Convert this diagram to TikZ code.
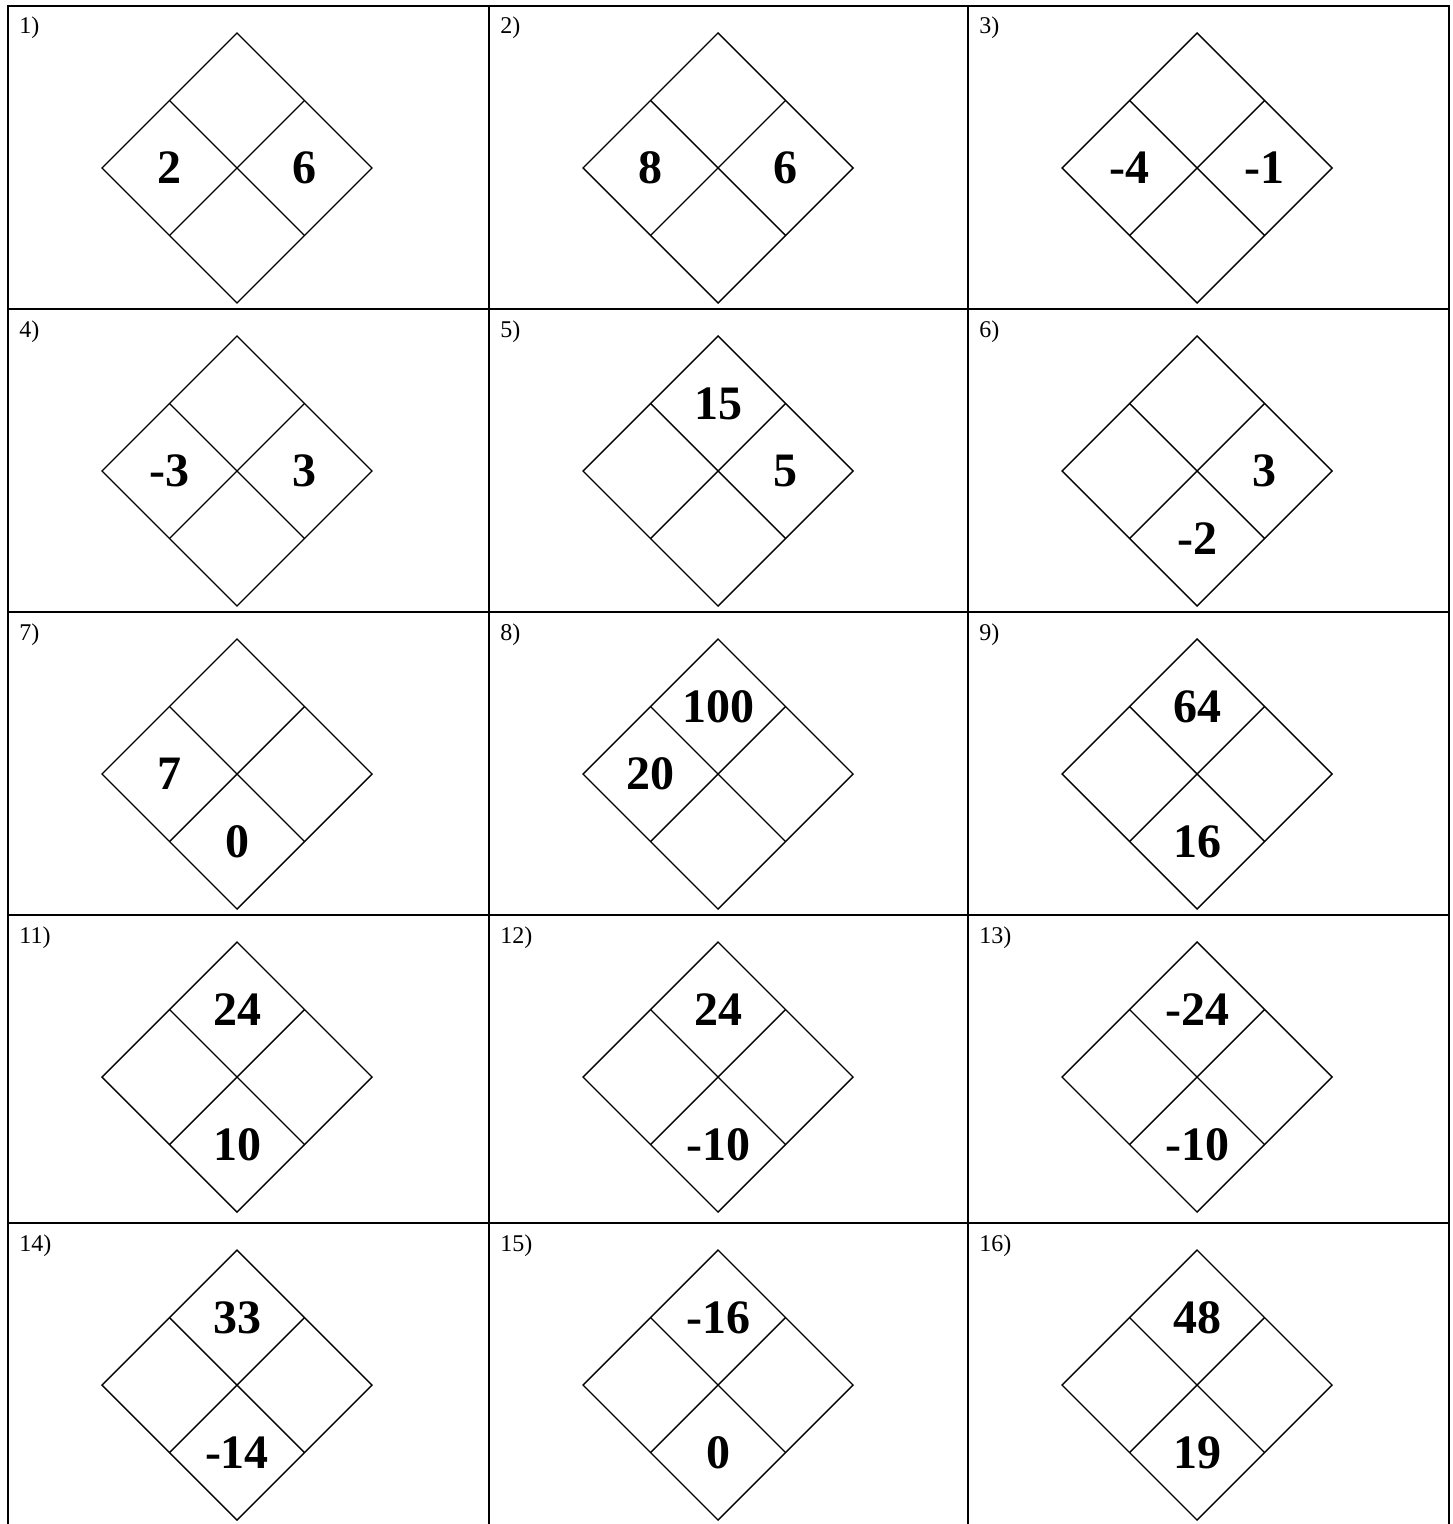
\documentclass[tikz,border=0pt]{standalone}
\usepackage{fontspec}
\setmainfont{Liberation Serif}
\usetikzlibrary{calc}

\tikzset{
  gridline/.style={line width=1.1pt},
  quadline/.style={line width=0.7pt, line join=miter},
  cellnum/.style={font=\fontsize{12}{14}\selectfont, anchor=base west, inner sep=0pt},
  quadnum/.style={font=\fontsize{24}{28}\selectfont\bfseries, inner sep=0pt},
}

% one diamond cut in four: #1 name, #2 cell left, #3 cell top
\newcommand{\quadcell}[3]{
  \coordinate (#1) at (#2+229,#3+162);
  \draw[quadline] ($(#1)+(0,-135)$) -- ($(#1)+(135,0)$) -- ($(#1)+(0,135)$) -- ($(#1)+(-135,0)$) -- cycle;
  \draw[quadline] ($(#1)+(-67.5,-67.5)$) -- ($(#1)+(67.5,67.5)$);
  \draw[quadline] ($(#1)+(67.5,-67.5)$) -- ($(#1)+(-67.5,67.5)$);
  \coordinate (#1-t) at ($(#1)+(0,-67.5)$);
  \coordinate (#1-l) at ($(#1)+(-67.5,0)$);
  \coordinate (#1-r) at ($(#1)+(67.5,0)$);
  \coordinate (#1-b) at ($(#1)+(0,67.5)$);
}

\begin{document}
\begin{tikzpicture}[x=0.5pt, y=-0.5pt]
  \useasboundingbox (0,0) rectangle (1452,1524);
  %
  % table
  \draw[gridline] (8,1524) -- (8,6) -- (1449,6) -- (1449,1524);
  \draw[gridline] (489,6) -- (489,1524);
  \draw[gridline] (968,6) -- (968,1524);
  \draw[gridline] (8,309) -- (1449,309);
  \draw[gridline] (8,612) -- (1449,612);
  \draw[gridline] (8,915) -- (1449,915);
  \draw[gridline] (8,1223) -- (1449,1223);
  %
  % row 1
  \node[cellnum] (lab1) at (19,34) {1)};
  \quadcell{c1}{8}{6}
  \node[quadnum] (n1l) at (c1-l) {2};
  \node[quadnum] (n1r) at (c1-r) {6};
  \node[cellnum] (lab2) at (500,34) {2)};
  \quadcell{c2}{489}{6}
  \node[quadnum] (n2l) at (c2-l) {8};
  \node[quadnum] (n2r) at (c2-r) {6};
  \node[cellnum] (lab3) at (979,34) {3)};
  \quadcell{c3}{968}{6}
  \node[quadnum] (n3l) at (c3-l) {-4};
  \node[quadnum] (n3r) at (c3-r) {-1};
  %
  % row 2
  \node[cellnum] (lab4) at (19,337) {4)};
  \quadcell{c4}{8}{309}
  \node[quadnum] (n4l) at (c4-l) {-3};
  \node[quadnum] (n4r) at (c4-r) {3};
  \node[cellnum] (lab5) at (500,337) {5)};
  \quadcell{c5}{489}{309}
  \node[quadnum] (n5t) at (c5-t) {15};
  \node[quadnum] (n5r) at (c5-r) {5};
  \node[cellnum] (lab6) at (979,337) {6)};
  \quadcell{c6}{968}{309}
  \node[quadnum] (n6r) at (c6-r) {3};
  \node[quadnum] (n6b) at (c6-b) {-2};
  %
  % row 3
  \node[cellnum] (lab7) at (19,640) {7)};
  \quadcell{c7}{8}{612}
  \node[quadnum] (n7l) at (c7-l) {7};
  \node[quadnum] (n7b) at (c7-b) {0};
  \node[cellnum] (lab8) at (500,640) {8)};
  \quadcell{c8}{489}{612}
  \node[quadnum] (n8t) at (c8-t) {100};
  \node[quadnum] (n8l) at (c8-l) {20};
  \node[cellnum] (lab9) at (979,640) {9)};
  \quadcell{c9}{968}{612}
  \node[quadnum] (n9t) at (c9-t) {64};
  \node[quadnum] (n9b) at (c9-b) {16};
  %
  % row 4
  \node[cellnum] (lab11) at (19,943) {11)};
  \quadcell{c11}{8}{915}
  \node[quadnum] (n11t) at (c11-t) {24};
  \node[quadnum] (n11b) at (c11-b) {10};
  \node[cellnum] (lab12) at (500,943) {12)};
  \quadcell{c12}{489}{915}
  \node[quadnum] (n12t) at (c12-t) {24};
  \node[quadnum] (n12b) at (c12-b) {-10};
  \node[cellnum] (lab13) at (979,943) {13)};
  \quadcell{c13}{968}{915}
  \node[quadnum] (n13t) at (c13-t) {-24};
  \node[quadnum] (n13b) at (c13-b) {-10};
  %
  % row 5
  \node[cellnum] (lab14) at (19,1251) {14)};
  \quadcell{c14}{8}{1223}
  \node[quadnum] (n14t) at (c14-t) {33};
  \node[quadnum] (n14b) at (c14-b) {-14};
  \node[cellnum] (lab15) at (500,1251) {15)};
  \quadcell{c15}{489}{1223}
  \node[quadnum] (n15t) at (c15-t) {-16};
  \node[quadnum] (n15b) at (c15-b) {0};
  \node[cellnum] (lab16) at (979,1251) {16)};
  \quadcell{c16}{968}{1223}
  \node[quadnum] (n16t) at (c16-t) {48};
  \node[quadnum] (n16b) at (c16-b) {19};
\end{tikzpicture}
\end{document}
